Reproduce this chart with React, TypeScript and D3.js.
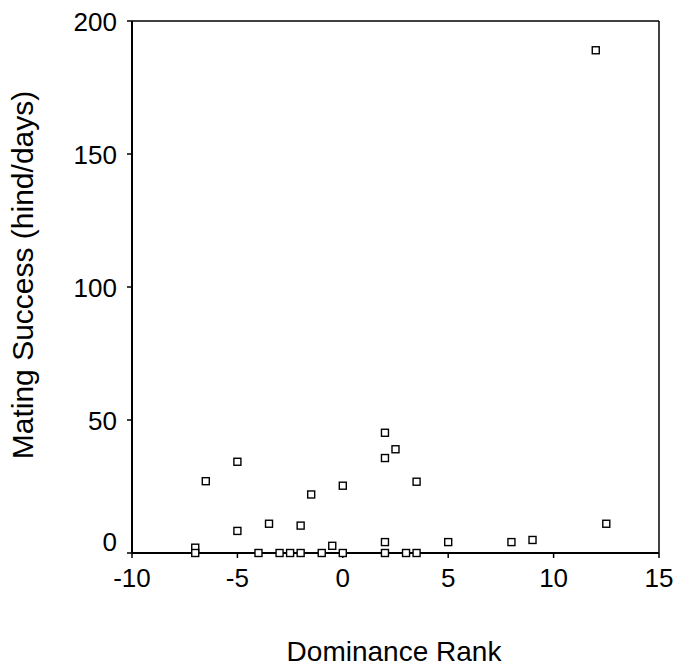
import React from "react";
import * as d3 from "d3";

const dominanceRank: number[] = [-7, -7, -6.5, -5, -5, -4, -3.5, -3, -2.5, -2, -2, -1.5, -1, -0.5, 0, 0, 2, 2, 2.5, 2, 2, 3.5, 3, 3.5, 5, 8, 9, 12.5, 12];
const matingSuccess: number[] = [2, 0, 27, 34.3, 8.3, 0, 11, 0, 0, 0, 10.3, 22, 0, 2.7, 25.3, 0, 45.2, 35.7, 39, 4.1, 0, 26.8, 0, 0, 4.1, 4.1, 4.9, 11, 189];
const xTicks: number[] = [-10, -5, 0, 5, 10, 15];
const yTicks: number[] = [0, 50, 100, 150, 200];
const xTitle = "Dominance Rank";
const yTitle = "Mating Success (hind/days)";

const W = 677;
const H = 671;
const left = 132;
const right = 659;
const top = 21;
const bottom = 553;
const font = "'Liberation Sans', Arial, sans-serif";

export default function App() {
  const x = d3.scaleLinear().domain([-10, 15]).range([left, right]);
  const y = d3.scaleLinear().domain([0, 200]).range([bottom, top]);
  const pts = dominanceRank.map((d, i) => ({ x: d, y: matingSuccess[i] }));
  const s = 7;
  return (
    <svg width={W} height={H} style={{ position: "absolute", left: 0, top: 0, background: "#fff" }} fontFamily={font}>
      <rect x={0} y={0} width={W} height={H} fill="#fff" />
      <line x1={left} x2={right} y1={top} y2={top} stroke="#000" strokeWidth={1.5} />
      <line x1={right} x2={right} y1={top} y2={bottom} stroke="#000" strokeWidth={1.5} />
      <line x1={left} x2={left} y1={top} y2={bottom} stroke="#000" strokeWidth={2} />
      <line x1={left} x2={right} y1={bottom} y2={bottom} stroke="#000" strokeWidth={2} />
      {xTicks.map((t) => (
        <g key={"x" + t}>
          <line x1={x(t)} x2={x(t)} y1={bottom} y2={bottom + 5} stroke="#000" strokeWidth={1.5} />
          <text x={x(t)} y={bottom + 34} fontSize={26} textAnchor="middle" fill="#000">{t}</text>
        </g>
      ))}
      {yTicks.map((t) => (
        <g key={"y" + t}>
          <line x1={left - 5} x2={left} y1={y(t)} y2={y(t)} stroke="#000" strokeWidth={1.5} />
          <text x={left - 15} y={y(t) + 10 - (t === 0 ? 12 : 0)} fontSize={26} textAnchor="end" fill="#000">{t}</text>
        </g>
      ))}
      {pts.map((p, i) => (
        <rect key={i} x={x(p.x) - s / 2} y={y(p.y) - s / 2} width={s} height={s} fill="#fff" stroke="#000" strokeWidth={1.4} />
      ))}
      <text x={394} y={661} fontSize={28} textAnchor="middle" fill="#000">{xTitle}</text>
      <text transform={`translate(33,275) rotate(-90)`} fontSize={30} textAnchor="middle" fill="#000">{yTitle}</text>
    </svg>
  );
}
